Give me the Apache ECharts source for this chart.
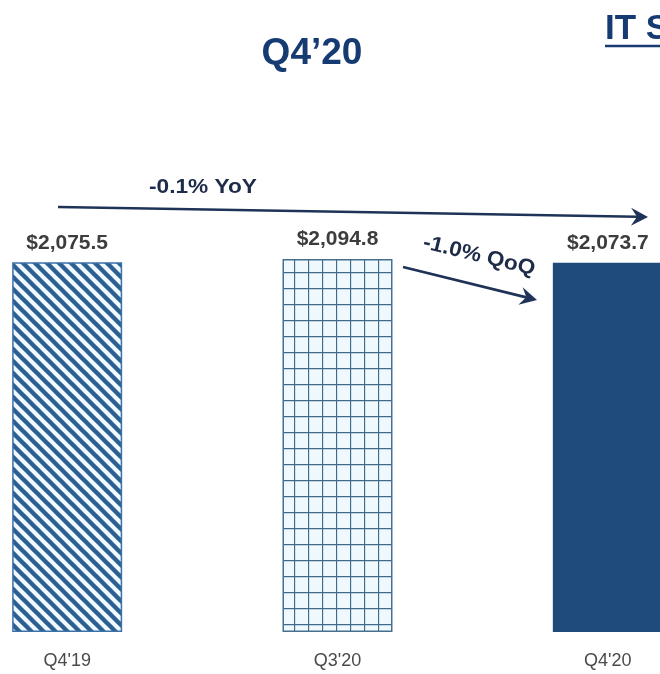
<!DOCTYPE html>
<html>
<head>
<meta charset="utf-8">
<script src="https://cdn.jsdelivr.net/npm/echarts@6/dist/echarts.min.js"></script>
<style>
html,body{margin:0;padding:0;background:#fff;}
#chart{width:660px;height:674px;}
</style>
</head>
<body>
<div id="chart"></div>
<script>
var categories = ["Q4'19", "Q3'20", "Q4'20"];
var revenue = [2075.5, 2094.8, 2073.7];
var valueLabels = ["$2,075.5", "$2,094.8", "$2,073.7"];
var yoyText = "-0.1% YoY";
var qoqText = "-1.0% QoQ";
var titleText = "Q4\u201920";
var sectionText = "IT Services";

function stripePattern() {
  var c = document.createElement('canvas');
  c.width = 12; c.height = 12;
  var g = c.getContext('2d');
  g.fillStyle = '#eefaff';
  g.fillRect(0, 0, 12, 12);
  g.strokeStyle = '#2d5f90';
  g.lineWidth = 4.4;
  for (var k = -1; k <= 1; k++) {
    g.beginPath();
    g.moveTo(k * 12 - 2, -2);
    g.lineTo(k * 12 + 14, 14);
    g.stroke();
  }
  return c;
}
function gridPattern() {
  var c = document.createElement('canvas');
  c.width = 14; c.height = 16;
  var g = c.getContext('2d');
  g.fillStyle = '#eef8fd';
  g.fillRect(0, 0, 14, 16);
  g.strokeStyle = '#3e6a8c';
  g.lineWidth = 1.3;
  g.beginPath();
  g.moveTo(0.5, 0); g.lineTo(0.5, 16);
  g.moveTo(0, 0.5); g.lineTo(14, 0.5);
  g.stroke();
  return c;
}

var barStyles = [
  { color: { image: stripePattern(), repeat: 'repeat' }, borderColor: '#3b70a8', borderWidth: 1.5 },
  { color: { image: gridPattern(), repeat: 'repeat' }, borderColor: '#46708f', borderWidth: 1.5 },
  { color: '#1f4b7a', borderColor: '#1f4b7a', borderWidth: 0 }
];

function arrow(x1, y1, x2, y2, color) {
  var dx = x2 - x1, dy = y2 - y1;
  var len = Math.sqrt(dx * dx + dy * dy);
  var ux = dx / len, uy = dy / len;
  var px = -uy, py = ux;
  var back = 17, half = 9, notch = 11;
  var bx = x2 - ux * back, by = y2 - uy * back;
  var nx = x2 - ux * notch, ny = y2 - uy * notch;
  return [
    { type: 'line', z: 10, shape: { x1: x1, y1: y1, x2: nx, y2: ny }, style: { stroke: color, lineWidth: 2.6 } },
    { type: 'polygon', z: 10, shape: { points: [[x2, y2], [bx + px * half, by + py * half], [nx, ny], [bx - px * half, by - py * half]] }, style: { fill: color } }
  ];
}

var chart = echarts.init(document.getElementById('chart'), null, { renderer: 'canvas' });
var arrowColor = '#1e3357';
var graphics = []
  .concat(arrow(58, 207, 648, 217, arrowColor))
  .concat(arrow(403, 267, 537, 300, arrowColor))
  .concat([
    { type: 'text', x: 312, y: 54, style: { text: titleText, fill: '#163b73', font: 'bold 37px "Liberation Sans", Arial, sans-serif', align: 'center', verticalAlign: 'middle' } },
    { type: 'text', x: 605, y: 29, style: { text: sectionText, fill: '#163b73', font: 'bold 35px "Liberation Sans", Arial, sans-serif', align: 'left', verticalAlign: 'middle' } },
    { type: 'line', shape: { x1: 605, y1: 46, x2: 800, y2: 46 }, style: { stroke: '#163b73', lineWidth: 2.5 } },
    { type: 'text', x: 203, y: 187, scaleX: 1.08, style: { text: yoyText, fill: '#1e2c4a', font: 'bold 21px "Liberation Sans", Arial, sans-serif', align: 'center', verticalAlign: 'middle' } },
    { type: 'text', x: 479, y: 256, rotation: -0.24, scaleX: 1.08, style: { text: qoqText, fill: '#1e2c4a', font: 'bold 21px "Liberation Sans", Arial, sans-serif', align: 'center', verticalAlign: 'middle' } }
  ]);

chart.setOption({
  animation: false,
  backgroundColor: '#ffffff',
  grid: { left: -68, width: 811, top: 258, height: 374, containLabel: false, outerBoundsMode: 'none' },
  xAxis: {
    type: 'category',
    data: categories,
    axisLine: { show: false },
    axisTick: { show: false },
    axisLabel: { color: '#4a4a4a', fontSize: 18, fontFamily: '"Liberation Sans", Arial, sans-serif', margin: 20 }
  },
  yAxis: {
    type: 'value', min: 0, max: 2100, show: false, splitLine: { show: false }
  },
  series: [{
    type: 'bar',
    barWidth: 110,
    data: revenue.map(function (v, i) {
      return { value: v, itemStyle: barStyles[i], label: { formatter: valueLabels[i] } };
    }),
    label: {
      show: true, position: 'top', distance: 9,
      color: '#3d3d3d', fontSize: 21, fontWeight: 'bold',
      fontFamily: '"Liberation Sans", Arial, sans-serif'
    }
  }],
  graphic: graphics
});
</script>
</body>
</html>
